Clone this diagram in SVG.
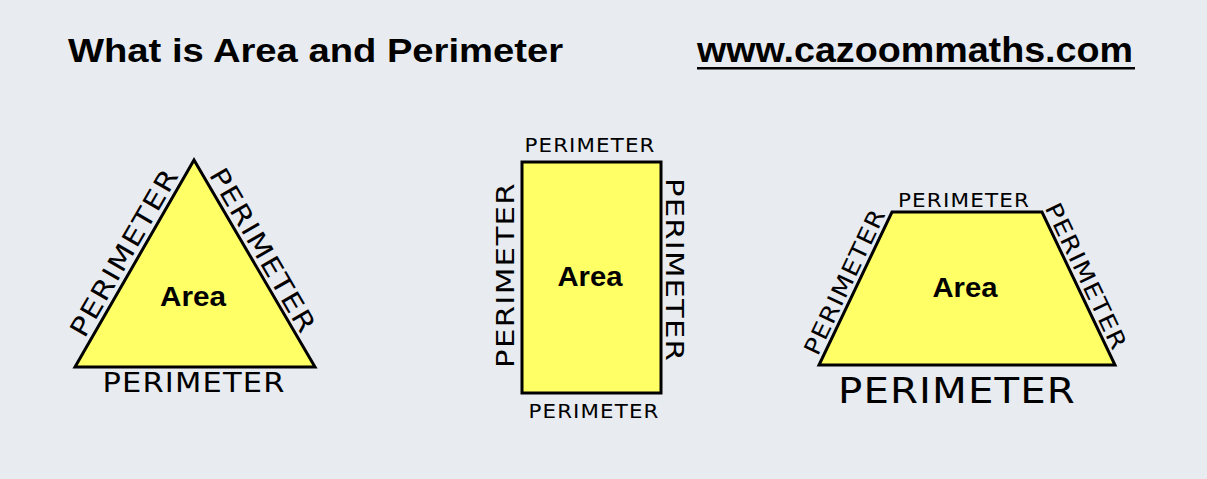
<svg xmlns="http://www.w3.org/2000/svg" width="1207" height="479" viewBox="0 0 1207 479">
<style>
.shape{fill:#FFFF66;stroke:#000;stroke-width:3;stroke-linejoin:miter}
.per{font-family:"DejaVu Sans","Liberation Sans",sans-serif;fill:#000;text-anchor:middle;letter-spacing:1px}
.area{font-family:"Liberation Sans",Arial,sans-serif;font-weight:bold;font-size:27px;fill:#000;text-anchor:middle}
.title{font-family:"Liberation Sans",Arial,sans-serif;font-weight:bold;fill:#000}
</style>
<rect width="1207" height="479" fill="#E8EBF0"/>
<g id="header">
<text class="title" x="68" y="62" font-size="34" textLength="495" lengthAdjust="spacingAndGlyphs">What is Area and Perimeter</text>
<text class="title" x="697" y="62" font-size="35" textLength="436" lengthAdjust="spacingAndGlyphs">www.cazoommaths.com</text>
<rect x="697" y="67" width="438" height="2.5" fill="#000"/>
</g>
<g id="triangle">
<polygon class="shape" points="194,160 75,367 315,367"/>
<text class="area" x="193" y="306" textLength="66" lengthAdjust="spacingAndGlyphs">Area</text>
<text class="per" x="194" y="392" font-size="26" textLength="183" lengthAdjust="spacingAndGlyphs">PERIMETER</text>
<text class="per" transform="translate(132,257) rotate(-60)" font-size="26" textLength="190" lengthAdjust="spacingAndGlyphs">PERIMETER</text>
<text class="per" transform="translate(255,255) rotate(60)" font-size="26" textLength="186" lengthAdjust="spacingAndGlyphs">PERIMETER</text>
</g>
<g id="rectangle">
<rect class="shape" x="522" y="162" width="139" height="231"/>
<text class="area" x="590" y="286" textLength="65" lengthAdjust="spacingAndGlyphs">Area</text>
<text class="per" x="590" y="152" font-size="19" textLength="131" lengthAdjust="spacingAndGlyphs">PERIMETER</text>
<text class="per" x="594" y="418" font-size="19" textLength="131" lengthAdjust="spacingAndGlyphs">PERIMETER</text>
<text class="per" transform="translate(514,275) rotate(-90)" font-size="25" textLength="186" lengthAdjust="spacingAndGlyphs">PERIMETER</text>
<text class="per" transform="translate(666,270) rotate(90)" font-size="25" textLength="184" lengthAdjust="spacingAndGlyphs">PERIMETER</text>
</g>
<g id="trapezoid">
<polygon class="shape" points="892,212 1042,212 1115,365 819,365"/>
<text class="area" x="965" y="297" textLength="65" lengthAdjust="spacingAndGlyphs">Area</text>
<text class="per" x="964" y="207" font-size="19" textLength="132" lengthAdjust="spacingAndGlyphs">PERIMETER</text>
<text class="per" x="957" y="403" font-size="36" textLength="238" lengthAdjust="spacingAndGlyphs">PERIMETER</text>
<text class="per" transform="translate(852,285) rotate(-64.5)" font-size="23" textLength="159" lengthAdjust="spacingAndGlyphs">PERIMETER</text>
<text class="per" transform="translate(1079,280) rotate(64.5)" font-size="23" textLength="160" lengthAdjust="spacingAndGlyphs">PERIMETER</text>
</g>
</svg>
